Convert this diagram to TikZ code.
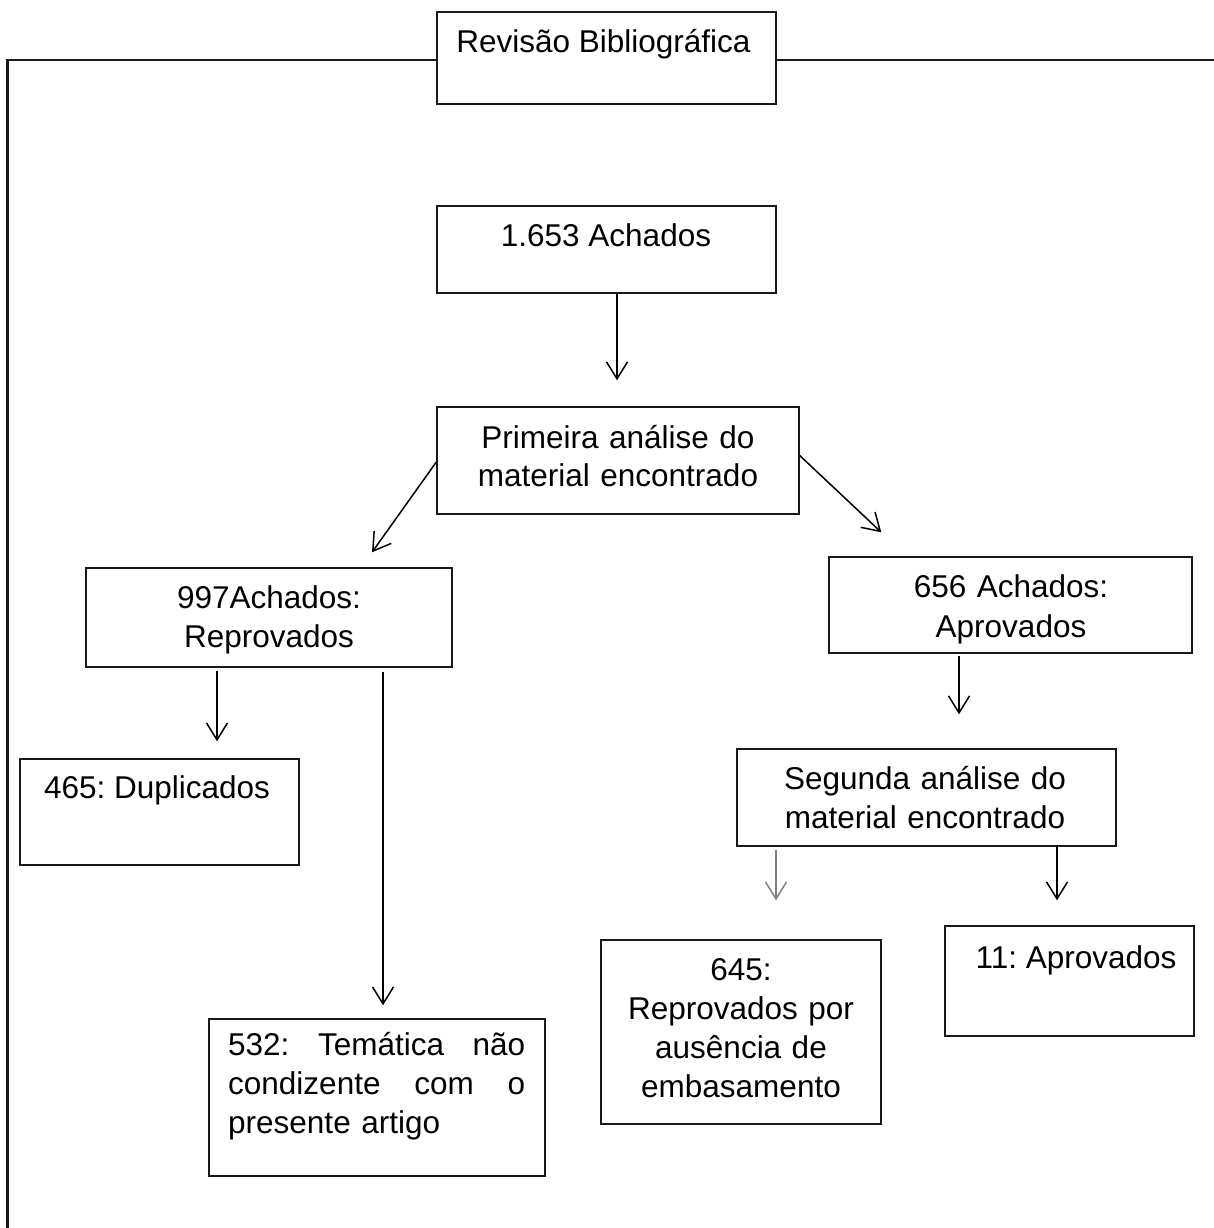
\documentclass[tikz,border=0pt]{standalone}
\usepackage{fontspec}
\setmainfont{Liberation Sans}
\usetikzlibrary{arrows.meta}
\frenchspacing
\begin{document}
\begin{tikzpicture}[x=1pt,y=-1pt,
  box/.style={draw=black!90, line width=1.4pt, fill=white, rectangle, inner sep=0pt},
  txt/.style={inner sep=0pt, anchor=base, font=\fontsize{31.5}{39}\selectfont\frenchspacing},
  mtxt/.style={txt, text width=#1, align=center},
  arr/.style={line width=1.5pt, -{Straight Barb[length=17pt,width=21pt]}},
  frame/.style={line width=2.6pt, black!90}]
\useasboundingbox (0,0) rectangle (1214,1228);
% outer frame
\coordinate (fbl) at (7.5,1228);
\coordinate (ftr) at (1214,60);
\draw[frame] (fbl) |- (ftr);
% boxes
\node[box, minimum width=339pt, minimum height=92pt]  (title) at (606.5,58) {};
\node[box, minimum width=339pt, minimum height=87pt]  (ach)   at (606.5,249.5) {};
\node[box, minimum width=362pt, minimum height=107pt] (prim)  at (618,460.5) {};
\node[box, minimum width=366pt, minimum height=99pt]  (rep)   at (269,617.5) {};
\node[box, minimum width=363pt, minimum height=96pt]  (apr)   at (1010.5,605) {};
\node[box, minimum width=279pt, minimum height=106pt] (dup)   at (159.5,812) {};
\node[box, minimum width=379pt, minimum height=97pt]  (seg)   at (926.5,797.5) {};
\node[box, minimum width=280pt, minimum height=184pt] (rej)   at (741,1032) {};
\node[box, minimum width=249pt, minimum height=110pt] (ok)    at (1069.5,981) {};
\node[box, minimum width=336pt, minimum height=157pt] (tem)   at (377,1097.5) {};
% texts
\node[txt] (titlet) at (603.5,53) {Revisão Bibliográfica};
\node[txt] (acht) at (606,246) {1.653 Achados};
\node[mtxt=360pt, font=\fontsize{31.5}{38}\selectfont] (primt) at (618,448) {Primeira análise do\\material encontrado};
\node[mtxt=360pt] (rept) at (269,608) {997Achados:\\Reprovados};
\node[mtxt=360pt, font=\fontsize{31.5}{40}\selectfont] (aprt) at (1011,597) {656 Achados:\\Aprovados};
\node[txt] (dupt) at (157,798) {465: Duplicados};
\node[mtxt=370pt] (segt) at (925,789) {Segunda análise do\\material encontrado};
\node[mtxt=275pt] (rejt) at (741,980) {645:\\Reprovados por\\ausência de\\embasamento};
\node[txt] (okt) at (1076,968) {11: Aprovados};
\node[txt, anchor=base west, text width=297pt, align=left] (temt) at (228,1055)
  {\makebox[297pt][l]{532:\hfill Temática\hfill não}\\\makebox[297pt][l]{condizente\hfill com\hfill o}\\presente artigo};
% connectors
\draw[arr] ([xshift=10.5pt]ach.south) -- ([xshift=-1pt,yshift=26pt]prim.north);
\draw[arr] ([yshift=-1.5pt]prim.west) -- ([xshift=103pt,yshift=15pt]rep.north);
\draw[arr] ([yshift=5pt]prim.east) -- ([xshift=53pt,yshift=24pt]apr.north west);
\draw[arr] ([xshift=-52pt,yshift=-3pt]rep.south) -- ([xshift=57.5pt,yshift=17pt]dup.north);
\draw[arr] ([xshift=114pt,yshift=-4pt]rep.south) -- ([xshift=6pt,yshift=13pt]tem.north);
\draw[arr] ([xshift=-51.5pt,yshift=-2pt]apr.south) -- ([xshift=32.5pt,yshift=34pt]seg.north);
\draw[arr, black!50] ([xshift=-150.5pt,yshift=-3pt]seg.south) -- ([xshift=35pt,yshift=39pt]rej.north);
\draw[arr] ([xshift=130.5pt,yshift=2pt]seg.south) -- ([xshift=-12.5pt,yshift=25pt]ok.north);
\end{tikzpicture}
\end{document}
